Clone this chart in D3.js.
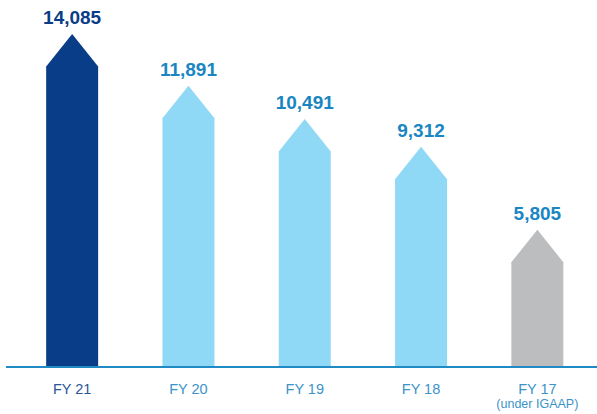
<!DOCTYPE html>
<html>
<head>
<meta charset="utf-8">
<script src="https://cdn.jsdelivr.net/npm/d3@7"></script>
<style>
  html, body { margin: 0; padding: 0; background: #ffffff; }
  svg { display: block; font-family: "Liberation Sans", Arial, Helvetica, sans-serif; }
</style>
</head>
<body>
<svg id="chart" width="597" height="414"></svg>
<script>
const categories = ["FY 21", "FY 20", "FY 19", "FY 18", "FY 17"];
const subLabels = ["", "", "", "", "(under IGAAP)"];
const values = [14085, 11891, 10491, 9312, 5805];
const valueLabels = ["14,085", "11,891", "10,491", "9,312", "5,805"];
const kinds = ["current", "past", "past", "past", "igaap"];

const fills = { current: "#0a3d87", past: "#8fd9f6", igaap: "#bcbdbf" };
const valueColors = { current: "#0a3d87", past: "#1a86c1", igaap: "#1a86c1" };
const catColors = { current: "#2b5597", past: "#3b93c9", igaap: "#3b93c9" };

const svg = d3.select("#chart");
const baseY = 367;

const x = d3.scaleBand()
  .domain(categories)
  .range([14, 595.5])
  .paddingInner(0.553)
  .paddingOuter(0.2765);

const y = d3.scaleLinear()
  .domain([0, 14085])
  .range([baseY, 34]);

const arrowH = 32.5;

const data = categories.map((c, i) => ({ c, v: values[i], label: valueLabels[i], kind: kinds[i], sub: subLabels[i] }));

function arrowPath(d) {
  const x0 = x(d.c), x1 = x0 + x.bandwidth(), xm = x0 + x.bandwidth() / 2;
  const top = y(d.v);
  const sh = top + arrowH;
  return `M${x0},${baseY}L${x0},${sh}L${xm},${top}L${x1},${sh}L${x1},${baseY}Z`;
}

svg.selectAll("path.bar").data(data).join("path")
  .attr("class", "bar")
  .attr("d", arrowPath)
  .attr("fill", d => fills[d.kind]);

svg.append("line")
  .attr("x1", 6).attr("x2", 597)
  .attr("y1", baseY).attr("y2", baseY)
  .attr("stroke", "#1f8ac4")
  .attr("stroke-width", 2.2);

svg.selectAll("text.val").data(data).join("text")
  .attr("class", "val")
  .attr("x", d => x(d.c) + x.bandwidth() / 2)
  .attr("y", d => y(d.v) - 10)
  .attr("text-anchor", "middle")
  .attr("font-size", 19)
  .attr("font-weight", "bold")
  .attr("fill", d => valueColors[d.kind])
  .text(d => d.label);

svg.selectAll("text.cat").data(data).join("text")
  .attr("class", "cat")
  .attr("x", d => x(d.c) + x.bandwidth() / 2)
  .attr("y", 394)
  .attr("text-anchor", "middle")
  .attr("font-size", 14.5)
  .attr("fill", d => catColors[d.kind])
  .text(d => d.c);

svg.selectAll("text.sub").data(data.filter(d => d.sub)).join("text")
  .attr("class", "sub")
  .attr("x", d => x(d.c) + x.bandwidth() / 2)
  .attr("y", 407.5)
  .attr("text-anchor", "middle")
  .attr("font-size", 12.5)
  .attr("fill", d => catColors[d.kind])
  .text(d => d.sub);
</script>
</body>
</html>
